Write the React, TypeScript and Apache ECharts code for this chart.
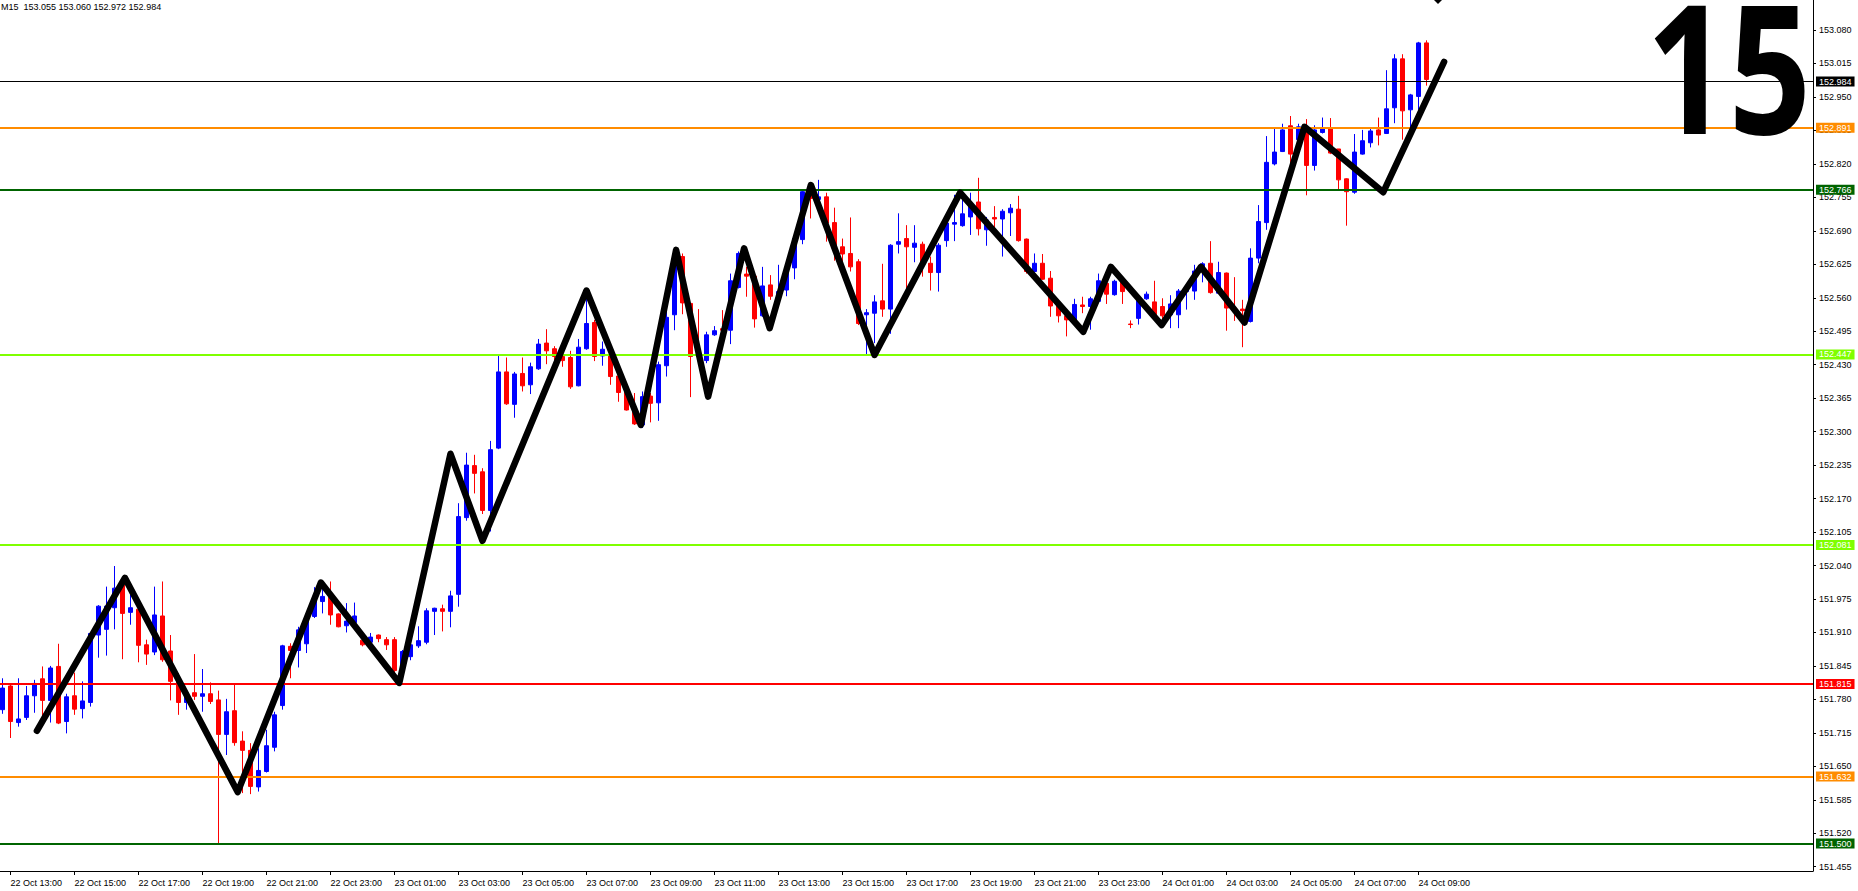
import React, { useEffect, useRef } from "react";
import * as echarts from "echarts";

// ---- data (USDJPY-like M15 bars, bar 0 = 22 Oct 12:45) ----
const opens = [
  151.760, 151.806, 151.735, 151.745, 151.787, 151.820, 151.778, 151.844, 151.737, 151.787,
  151.762, 151.774, 151.905, 151.916, 151.958, 152.002, 151.949, 151.955, 151.886, 151.872,
  151.942, 151.874, 151.815, 151.774, 151.793, 151.786, 151.791, 151.779, 151.712, 151.758,
  151.699, 151.681, 151.610, 151.640, 151.687, 151.768, 151.883, 151.875, 151.888, 151.941,
  151.970, 151.983, 151.946, 151.923, 151.929, 151.895, 151.891, 151.905, 151.896, 151.896,
  151.847, 151.863, 151.884, 151.891, 151.951, 151.956, 151.951, 151.984, 152.133, 152.234,
  152.222, 152.147, 152.268, 152.416, 152.353, 152.413, 152.391, 152.422, 152.472, 152.461,
  152.446, 152.444, 152.389, 152.461, 152.512, 152.447, 152.449, 152.408, 152.379, 152.345,
  152.313, 152.369, 152.356, 152.428, 152.527, 152.640, 152.549, 152.452, 152.438, 152.488,
  152.500, 152.497, 152.580, 152.606, 152.602, 152.525, 152.585, 152.562, 152.575, 152.618,
  152.673, 152.767, 152.751, 152.756, 152.706, 152.659, 152.646, 152.630, 152.527, 152.530,
  152.554, 152.538, 152.664, 152.675, 152.658, 152.664, 152.627, 152.609, 152.671, 152.703,
  152.700, 152.717, 152.746, 152.692, 152.716, 152.713, 152.725, 152.732, 152.674, 152.611,
  152.627, 152.598, 152.546, 152.525, 152.517, 152.546, 152.543, 152.553, 152.588, 152.566,
  152.593, 152.509, 152.520, 152.558, 152.552, 152.543, 152.527, 152.527, 152.572, 152.573,
  152.611, 152.627, 152.569, 152.608, 152.540, 152.538, 152.514, 152.637, 152.706, 152.820,
  152.844, 152.894, 152.867, 152.889, 152.817, 152.881, 152.888, 152.849, 152.791, 152.765,
  152.839, 152.861, 152.886, 152.879, 152.929, 153.024, 152.925, 152.951, 153.055,
];
const closes = [
  151.802, 151.737, 151.742, 151.787, 151.811, 151.778, 151.841, 151.734, 151.785, 151.761,
  151.777, 151.908, 151.961, 151.961, 151.996, 151.947, 151.958, 151.885, 151.868, 151.944,
  151.857, 151.815, 151.774, 151.789, 151.786, 151.791, 151.776, 151.712, 151.756, 151.696,
  151.681, 151.611, 151.642, 151.690, 151.750, 151.884, 151.875, 151.915, 151.934, 151.980,
  151.980, 151.944, 151.921, 151.932, 151.942, 151.886, 151.901, 151.898, 151.886, 151.836,
  151.873, 151.886, 151.894, 151.952, 151.957, 151.951, 151.981, 152.135, 152.235, 152.219,
  152.147, 152.265, 152.416, 152.354, 152.412, 152.389, 152.426, 152.470, 152.457, 152.446,
  152.438, 152.387, 152.464, 152.510, 152.446, 152.460, 152.407, 152.376, 152.342, 152.315,
  152.368, 152.355, 152.430, 152.522, 152.643, 152.550, 152.446, 152.446, 152.488, 152.496,
  152.497, 152.593, 152.646, 152.602, 152.519, 152.583, 152.563, 152.572, 152.611, 152.675,
  152.766, 152.753, 152.756, 152.705, 152.658, 152.645, 152.620, 152.510, 152.531, 152.552,
  152.538, 152.662, 152.669, 152.659, 152.666, 152.628, 152.609, 152.662, 152.705, 152.706,
  152.723, 152.743, 152.694, 152.711, 152.713, 152.728, 152.734, 152.671, 152.611, 152.627,
  152.596, 152.544, 152.525, 152.517, 152.547, 152.543, 152.558, 152.593, 152.567, 152.592,
  152.572, 152.508, 152.556, 152.567, 152.527, 152.525, 152.548, 152.573, 152.575, 152.612,
  152.626, 152.570, 152.609, 152.540, 152.533, 152.535, 152.637, 152.708, 152.823, 152.843,
  152.886, 152.839, 152.892, 152.817, 152.886, 152.888, 152.841, 152.789, 152.766, 152.843,
  152.865, 152.884, 152.876, 152.927, 153.024, 152.923, 152.954, 153.055, 152.984,
];
const highs = [
  151.821, 151.811, 151.821, 151.806, 151.818, 151.844, 151.845, 151.888, 151.791, 151.832,
  151.815, 151.910, 151.963, 151.999, 152.039, 152.012, 151.983, 151.973, 151.896, 151.999,
  152.009, 151.905, 151.831, 151.795, 151.868, 151.839, 151.813, 151.797, 151.781, 151.808,
  151.718, 151.695, 151.685, 151.721, 151.756, 151.886, 151.889, 151.921, 151.938, 151.998,
  152.009, 152.009, 151.947, 151.967, 151.968, 151.901, 151.909, 151.906, 151.901, 151.901,
  151.876, 151.889, 151.922, 151.957, 151.958, 151.964, 151.991, 152.161, 152.259, 152.255,
  152.229, 152.282, 152.449, 152.444, 152.416, 152.444, 152.434, 152.480, 152.499, 152.466,
  152.452, 152.457, 152.480, 152.572, 152.517, 152.475, 152.452, 152.413, 152.382, 152.375,
  152.378, 152.375, 152.436, 152.549, 152.650, 152.646, 152.550, 152.538, 152.494, 152.505,
  152.536, 152.607, 152.650, 152.620, 152.604, 152.620, 152.604, 152.624, 152.624, 152.682,
  152.769, 152.779, 152.789, 152.764, 152.735, 152.675, 152.716, 152.635, 152.538, 152.565,
  152.626, 152.664, 152.724, 152.701, 152.701, 152.669, 152.640, 152.666, 152.711, 152.760,
  152.763, 152.764, 152.793, 152.717, 152.738, 152.732, 152.742, 152.758, 152.675, 152.646,
  152.645, 152.612, 152.549, 152.536, 152.558, 152.562, 152.562, 152.607, 152.595, 152.595,
  152.596, 152.516, 152.559, 152.572, 152.593, 152.559, 152.565, 152.577, 152.579, 152.624,
  152.629, 152.670, 152.630, 152.609, 152.600, 152.556, 152.656, 152.740, 152.874, 152.888,
  152.898, 152.913, 152.898, 152.907, 152.895, 152.910, 152.909, 152.849, 152.792, 152.878,
  152.886, 152.888, 152.910, 153.002, 153.033, 153.033, 152.956, 153.057, 153.060,
];
const lows = [
  151.752, 151.705, 151.727, 151.740, 151.754, 151.747, 151.735, 151.732, 151.714, 151.750,
  151.743, 151.766, 151.861, 151.865, 151.916, 151.858, 151.925, 151.852, 151.847, 151.866,
  151.853, 151.778, 151.750, 151.760, 151.779, 151.756, 151.771, 151.501, 151.672, 151.690,
  151.598, 151.596, 151.601, 151.638, 151.679, 151.760, 151.821, 151.842, 151.870, 151.938,
  151.947, 151.925, 151.920, 151.910, 151.925, 151.883, 151.889, 151.891, 151.876, 151.831,
  151.831, 151.856, 151.880, 151.887, 151.905, 151.912, 151.920, 151.960, 152.127, 152.180,
  152.140, 152.106, 152.266, 152.352, 152.327, 152.378, 152.373, 152.420, 152.431, 152.439,
  152.426, 152.383, 152.388, 152.459, 152.437, 152.428, 152.391, 152.358, 152.341, 152.313,
  152.307, 152.318, 152.321, 152.407, 152.497, 152.528, 152.367, 152.442, 152.433, 152.486,
  152.494, 152.470, 152.578, 152.562, 152.502, 152.523, 152.556, 152.549, 152.563, 152.596,
  152.664, 152.714, 152.749, 152.669, 152.632, 152.630, 152.611, 152.507, 152.449, 152.472,
  152.523, 152.490, 152.646, 152.578, 152.629, 152.601, 152.574, 152.572, 152.659, 152.670,
  152.698, 152.682, 152.681, 152.661, 152.693, 152.640, 152.680, 152.669, 152.607, 152.607,
  152.595, 152.523, 152.512, 152.485, 152.510, 152.530, 152.498, 152.551, 152.548, 152.564,
  152.548, 152.501, 152.508, 152.556, 152.520, 152.517, 152.501, 152.501, 152.537, 152.556,
  152.590, 152.568, 152.568, 152.496, 152.515, 152.464, 152.512, 152.627, 152.692, 152.817,
  152.843, 152.821, 152.860, 152.759, 152.807, 152.879, 152.839, 152.768, 152.700, 152.762,
  152.838, 152.852, 152.856, 152.878, 152.899, 152.867, 152.889, 152.925, 152.972,
];

// zigzag trend lines: bar position, price
const zigBars = [4.3, 15.3, 29.4, 39.8, 49.6, 56.0, 60.0, 73.0, 79.8, 84.2, 88.2, 92.7, 95.9, 101.05, 109.0, 119.7, 135.1, 138.55, 144.9, 149.8, 155.25, 162.75, 172.6, 180.2];
const zigPrices = [151.719, 152.016, 151.600, 152.007, 151.812, 152.257, 152.088, 152.574, 152.313, 152.653, 152.368, 152.656, 152.501, 152.779, 152.449, 152.764, 152.494, 152.620, 152.507, 152.620, 152.512, 152.892, 152.765, 153.018];

// horizontal levels
const levelValues = [152.984, 152.891, 152.766, 152.447, 152.081, 151.815, 151.632, 151.500];
const levelColors = ["#000000", "#ff8c00", "#006400", "#7fff00", "#7fff00", "#ff0000", "#ff8c00", "#006400"];
const levelWidths = [1, 2, 2, 2, 2, 2, 2, 2];

// axis tick labels
const priceTicks = [
  151.455, 151.520, 151.585, 151.650, 151.715, 151.780, 151.845, 151.910, 151.975, 152.040,
  152.105, 152.170, 152.235, 152.300, 152.365, 152.430, 152.495, 152.560, 152.625, 152.690,
  152.755, 152.820, 152.885, 152.950, 153.015, 153.080,
];
const timeLabels = [
  "22 Oct 13:00", "22 Oct 15:00", "22 Oct 17:00", "22 Oct 19:00", "22 Oct 21:00", "22 Oct 23:00",
  "23 Oct 01:00", "23 Oct 03:00", "23 Oct 05:00", "23 Oct 07:00", "23 Oct 09:00", "23 Oct 11:00",
  "23 Oct 13:00", "23 Oct 15:00", "23 Oct 17:00", "23 Oct 19:00", "23 Oct 21:00", "23 Oct 23:00",
  "24 Oct 01:00", "24 Oct 03:00", "24 Oct 05:00", "24 Oct 07:00", "24 Oct 09:00",
];
const timeLabelBars = timeLabels.map((_, k) => 1 + 8 * k);
const periodLabel = "M15";
const bigLabel = "15";

const FONT = "Liberation Sans";

export default function App() {
  const ref = useRef<HTMLDivElement>(null);
  useEffect(() => {
    if (!ref.current) return;
    const chart = echarts.init(ref.current, null, { renderer: "svg" });
    const candleData = opens.map((o, i) => [i, o, closes[i], lows[i], highs[i]]);
    const zig = zigBars.map((b, k) => [b, zigPrices[k]]);
    const last = opens.length - 1;
    const header = `${periodLabel}  ${opens[last].toFixed(3)} ${highs[last].toFixed(3)} ${lows[last].toFixed(3)} ${closes[last].toFixed(3)}`;
    const option: any = {
      animation: false,
      backgroundColor: "#ffffff",
      grid: { left: 0, top: 0, width: 1813, height: 871 },
      xAxis: {
        type: "value",
        min: -0.3125,
        max: 226.3125,
        axisLine: { show: true, onZero: false, lineStyle: { color: "#000", width: 1 } },
        axisTick: { show: true, length: 4, lineStyle: { color: "#000" }, customValues: timeLabelBars },
        axisLabel: {
          customValues: timeLabelBars,
          formatter: (v: number) => timeLabels[Math.round((v - 1) / 8)] ?? "",
          align: "left",
          margin: 7,
          fontSize: 9,
          fontFamily: FONT,
          color: "#000",
        },
        splitLine: { show: false },
      },
      yAxis: {
        type: "value",
        position: "right",
        min: 151.4467,
        max: 153.1383,
        axisLine: { show: true, onZero: false, lineStyle: { color: "#000", width: 1 } },
        axisTick: { show: true, length: 3, lineStyle: { color: "#000" }, customValues: priceTicks },
        axisLabel: {
          customValues: priceTicks,
          formatter: (v: number) => v.toFixed(3),
          margin: 6,
          fontSize: 9,
          fontFamily: FONT,
          color: "#000",
        },
        splitLine: { show: false },
      },
      series: [
        {
          type: "candlestick",
          data: candleData,
          encode: { x: 0, y: [1, 2, 3, 4] },
          barWidth: 4,
          silent: true,
          itemStyle: {
            color: "#0000ff",
            color0: "#ff0000",
            borderColor: "#0000ff",
            borderColor0: "#ff0000",
            borderWidth: 1,
          },
          markLine: {
            silent: true,
            symbol: ["none", "none"],
            animation: false,
            data: levelValues.map((v, k) => ({
              yAxis: v,
              lineStyle: { color: levelColors[k], width: levelWidths[k], type: "solid" },
              label: {
                show: true,
                position: "end",
                distance: 3,
                formatter: v.toFixed(3),
                color: "#fff",
                backgroundColor: levelColors[k],
                padding: [1, 3, 0, 3],
                fontSize: 9,
                fontFamily: FONT,
              },
            })),
          },
        },
        {
          type: "line",
          data: zig,
          symbol: "none",
          silent: true,
          z: 10,
          lineStyle: { color: "#000", width: 6.5, cap: "round", join: "round" },
        },
      ],
      graphic: [
        {
          type: "text",
          x: 1,
          y: 2,
          silent: true,
          style: { text: header, fontSize: 9, fontFamily: FONT, fill: "#000", align: "left", verticalAlign: "top" },
        },
        {
          type: "text",
          x: 1811,
          y: 64,
          scaleX: 0.8,
          silent: true,
          z: 20,
          style: {
            text: bigLabel,
            fontSize: 180,
            fontWeight: 700,
            fontFamily: "Open Sans",
            fill: "#000",
            align: "right",
            verticalAlign: "middle",
          },
        },
        {
          type: "polygon",
          silent: true,
          shape: { points: [[1434, 0], [1438, 4], [1442, 0], [1438, -4]] },
          style: { fill: "#000" },
        },
      ],
    };
    chart.setOption(option);
    return () => chart.dispose();
  }, []);
  return (
    <div
      ref={ref}
      style={{ position: "absolute", left: 0, top: 0, width: 1858, height: 891, background: "#fff" }}
    />
  );
}
